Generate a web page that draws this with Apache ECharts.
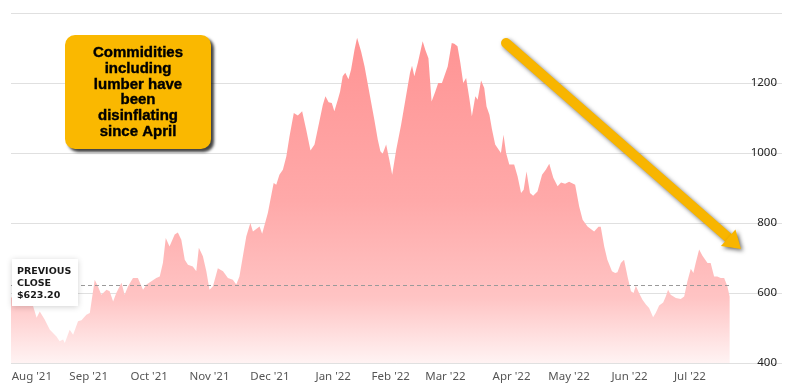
<!DOCTYPE html>
<html><head><meta charset="utf-8">
<script src="https://cdn.jsdelivr.net/npm/echarts@6/dist/echarts.min.js"></script>
<style>html,body{margin:0;padding:0;background:#fff}#c{width:796px;height:388px}</style>
</head><body><div id="c"></div>
<script>
// trading-day index (0 = first session shown)
const days = [0,3.8,6.5,7.7,8.9,10.0,11.7,13.5,15.8,16.9,18.1,18.7,20.4,21.6,23.3,24.5,26.2,27.4,29.1,30.2,31.4,33.2,34.3,35.5,36.6,38.4,39.5,40.7,42.4,44.1,45.9,47.1,50.5,51.7,52.8,53.8,55.1,56.9,58.0,59.2,60.4,61.5,63.2,64.4,65.3,66.7,67.9,69.0,70.2,71.9,73.7,75.4,77.1,78.3,79.4,80.6,81.8,83.2,84.1,86.4,87.3,89.3,91.3,92.2,93.3,94.5,95.7,96.8,98.3,99.7,101.2,102.6,104.1,105.5,106.6,108.4,109.3,110.4,111.5,112.4,113.6,114.4,115.3,116.2,117.3,118.2,119.4,120.3,121.7,122.9,124.6,126.3,127.5,128.4,129.2,130.4,131.5,132.5,133.9,135.6,137.3,138.7,139.4,140.2,141.4,143.1,144.0,145.1,146.2,147.5,148.5,149.8,150.4,151.8,153.2,154.1,155.2,156.2,157.2,158.2,159.3,160.2,161.4,162.2,163.4,164.5,165.3,166.3,167.2,168.3,170.3,171.2,172.1,173.2,174.9,176.1,177.3,178.2,179.2,180.4,181.5,183.0,184.6,185.9,187.1,188.5,190.0,191.2,192.6,194.0,196.1,197.5,198.7,200.4,202.7,204.2,205.0,206.2,207.3,208.9,210.0,210.8,212.0,213.1,214.3,215.5,216.4,217.2,218.3,219.5,220.7,221.8,223.2,224.1,225.3,226.7,227.6,228.4,229.3,231.1,232.8,234.0,235.1,236.3,237.2,238.0,239.2,240.3,242.1,243.2,244.4,245.5,246.7,247.9,249.0,249.8];
const prices = [587,589,572,562,529,547,524,495,476,462,467,457,495,481,519,522,538,543,638,619,595,609,605,576,600,629,595,619,643,643,609,624,643,647,686,757,733,767,773,752,695,681,676,662,729,705,662,609,619,671,662,643,638,624,647,705,762,800,776,790,769,829,914,909,938,952,990,1047,1114,1107,1119,1067,1007,1024,1067,1138,1162,1145,1143,1119,1152,1176,1219,1229,1211,1238,1295,1329,1290,1247,1171,1095,1038,1005,998,1024,981,938,1009,1081,1162,1229,1249,1219,1257,1319,1295,1271,1147,1176,1200,1200,1195,1247,1314,1312,1305,1257,1200,1214,1157,1105,1162,1152,1207,1186,1133,1109,1067,1024,1000,1052,1000,967,967,933,886,895,947,886,878,890,938,952,969,929,905,916,912,918,909,847,809,790,776,789,789,733,695,662,657,659,686,695,647,605,600,621,600,581,567,557,531,543,564,573,590,609,595,586,583,590,633,669,657,686,724,707,686,686,647,647,643,643,619,590];
const monthIdx = [5,27,48,69,90,112,132,151,174,194,215,236];
const monthLabels = ["Aug '21","Sep '21","Oct '21","Nov '21","Dec '21","Jan '22","Feb '22","Mar '22","Apr '22","May '22","Jun '22","Jul '22"];
const yMin = 400, yMax = 1400, yStep = 200;
const prevClose = 623.20;
const noteLines = ["Commidities","including","lumber have","been","disinflating","since April"];

const chart = echarts.init(document.getElementById('c'), null, {renderer:'canvas'});
const option = {
  animation: false,
  grid: {left: 11, right: 14, top: 13, bottom: 25},
  xAxis: {
    type: 'value', min: 0, max: 268,
    axisLine: {show: false}, axisTick: {show: false}, splitLine: {show: false},
    axisLabel: {
      customValues: monthIdx,
      color: '#555', fontFamily: 'Noto Sans', fontSize: 11.5, margin: 8,
      formatter: function (v) {
        const i = monthIdx.indexOf(v);
        if (i === 0) return '{first|' + monthLabels[i] + '}';
        return i >= 0 ? monthLabels[i] : '';
      },
      rich: {first: {padding: [0, 0, 0, 13], color: '#555', fontFamily: 'Noto Sans', fontSize: 11.5}}
    }
  },
  yAxis: {
    type: 'value', position: 'right', min: yMin, max: yMax, interval: yStep, z: 3,
    axisLine: {show: false}, axisTick: {show: false},
    splitLine: {lineStyle: {color: 'rgba(0,0,0,0.12)', width: 1}},
    axisLabel: {
      inside: true, margin: 5, showMaxLabel: false,
      formatter: function (v) { return String(v); },
      color: '#222', fontFamily: 'Noto Sans', fontSize: 11.5,
      verticalAlign: 'middle', padding: [0, 0, 8, 0]
    }
  },
  series: [{
    type: 'line',
    data: days.map((d, i) => [d, prices[i]]),
    showSymbol: false, symbol: 'none',
    lineStyle: {width: 0},
    areaStyle: {
      origin: 'start', opacity: 1,
      color: new echarts.graphic.LinearGradient(0, 0, 0, 1, [
        {offset: 0, color: '#ff9494'},
        {offset: 0.5, color: '#ffa9a9'},
        {offset: 0.8, color: '#ffc4c4'},
        {offset: 1, color: '#fff3f3'}
      ])
    },
    markLine: {
      silent: true, symbol: ['none', 'none'],
      label: {show: false},
      lineStyle: {type: [4, 3], color: '#9a9a9a', width: 1},
      data: [[{coord: [days[0], prevClose]}, {coord: [days[days.length - 1], prevClose]}]]
    }
  }]
};
chart.setOption(option);

const yPc = chart.convertToPixel({yAxisIndex: 0}, prevClose);
const tip = [741, 249], start = [506, 43];
const dx = tip[0] - start[0], dy = tip[1] - start[1], len = Math.hypot(dx, dy);
const ux = dx / len, uy = dy / len, nx = -uy, ny = ux;
const headL = 17, headW = 11;
const bx = tip[0] - headL * ux, by = tip[1] - headL * uy;
const shadow = {shadowBlur: 4, shadowColor: 'rgba(0,0,0,0.55)', shadowOffsetX: 2, shadowOffsetY: 2};
chart.setOption({
  graphic: [
    {type: 'rect', z: 100, zlevel: 1, shape: {x: 12, y: yPc - 26, width: 66, height: 47},
      style: {fill: '#fff', shadowBlur: 6, shadowColor: 'rgba(0,0,0,0.18)', shadowOffsetX: 0, shadowOffsetY: 1}},
    {type: 'text', z: 101, zlevel: 1, style: {x: 17, y: yPc - 1.7, text: 'PREVIOUS\nCLOSE\n$' + prevClose.toFixed(2),
      fontFamily: 'DejaVu Sans', fontWeight: 'bold', fontSize: 9.5, lineHeight: 12, fill: '#1a1a1a',
      align: 'left', verticalAlign: 'middle'}},
    {type: 'rect', z: 100, zlevel: 1, shape: {x: 65, y: 35, width: 146, height: 114, r: 10},
      style: {fill: '#fab800', shadowBlur: 3, shadowColor: 'rgba(0,0,0,0.75)', shadowOffsetX: 3, shadowOffsetY: 3}},
    {type: 'text', z: 101, zlevel: 1, style: {x: 138, y: 92.5, text: noteLines.join('\n'),
      fontFamily: 'Liberation Sans', fontWeight: 'bold', fontSize: 15, lineHeight: 15.7, fill: '#000',
      stroke: '#000', lineWidth: 0.4,
      align: 'center', verticalAlign: 'middle'}},
    {type: 'polyline', z: 100, zlevel: 1, shape: {points: [start, [bx + 2 * ux, by + 2 * uy]]},
      style: Object.assign({stroke: '#f8b500', lineWidth: 10, lineCap: 'round', fill: null}, shadow)},
    {type: 'polygon', z: 100, zlevel: 1, shape: {points: [tip, [bx + headW * nx, by + headW * ny], [bx - headW * nx, by - headW * ny]]},
      style: Object.assign({fill: '#f8b500'}, shadow)}
  ]
});
</script></body></html>
